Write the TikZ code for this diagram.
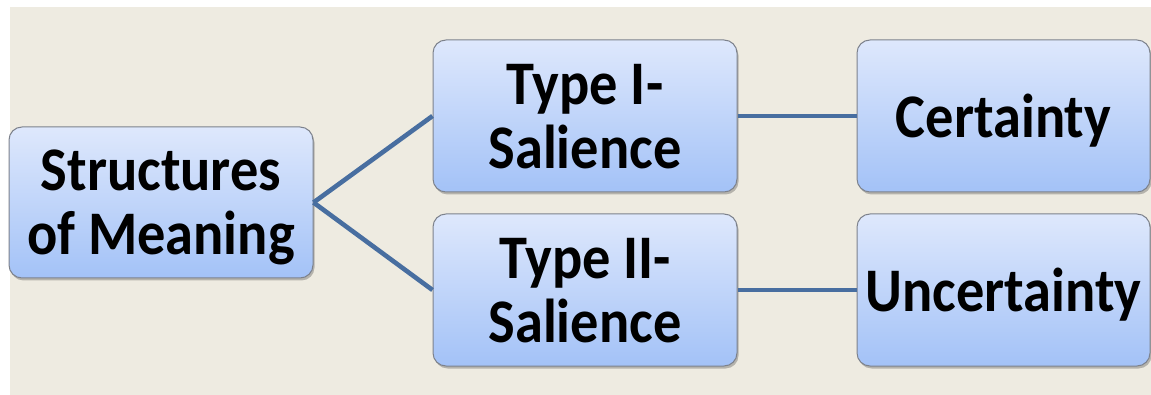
\documentclass[tikz,border=0pt]{standalone}
\usepackage{fontspec}
\setmainfont{Carlito}
\newfontfamily\boxfont[FakeStretch=0.91]{Carlito}
\usetikzlibrary{shadows}
\definecolor{bgc}{RGB}{238,235,225}
\definecolor{boxtop}{RGB}{222,232,252}
\definecolor{boxbot}{RGB}{163,194,247}
\definecolor{boxline}{RGB}{125,130,140}
\definecolor{conn}{RGB}{72,110,160}
\tikzset{
  mbox/.style={draw=boxline, line width=1pt, rounded corners=13pt,
    top color=boxtop, bottom color=boxbot, align=center, inner sep=0pt,
    text depth=0pt,
    font=\boxfont\bfseries\fontsize{62}{64}\selectfont,
    drop shadow={shadow xshift=1.5pt, shadow yshift=-2.5pt, opacity=0.35, fill=black!70}},
  conline/.style={draw=conn, line width=4.6pt}
}
\begin{document}
\begin{tikzpicture}[x=1pt,y=-1pt]
\useasboundingbox (0,0) rectangle (1151,395);
\fill[white] (0,0) rectangle (1151,395);
\fill[bgc] (10,7) rectangle (1151,395);
\node[mbox, minimum width=304pt, minimum height=151pt] (root) at (161,202.5) {Structures\\of Meaning};
\node[mbox, minimum width=304pt, minimum height=152pt] (t1) at (585,116) {Type I-\\Salience};
\node[mbox, minimum width=304pt, minimum height=152pt] (t2) at (585,290) {Type II-\\Salience};
\node[mbox, minimum width=293pt, minimum height=152pt] (c1) at (1003.5,116) {Certainty};
\node[mbox, minimum width=293pt, minimum height=152pt] (c2) at (1003.5,290) {Uncertainty};
\draw[conline] (root.east) -- (t1.west);
\draw[conline] (root.east) -- (t2.west);
\draw[conline] (t1.east) -- (c1.west);
\draw[conline] (t2.east) -- (c2.west);
\end{tikzpicture}
\end{document}
